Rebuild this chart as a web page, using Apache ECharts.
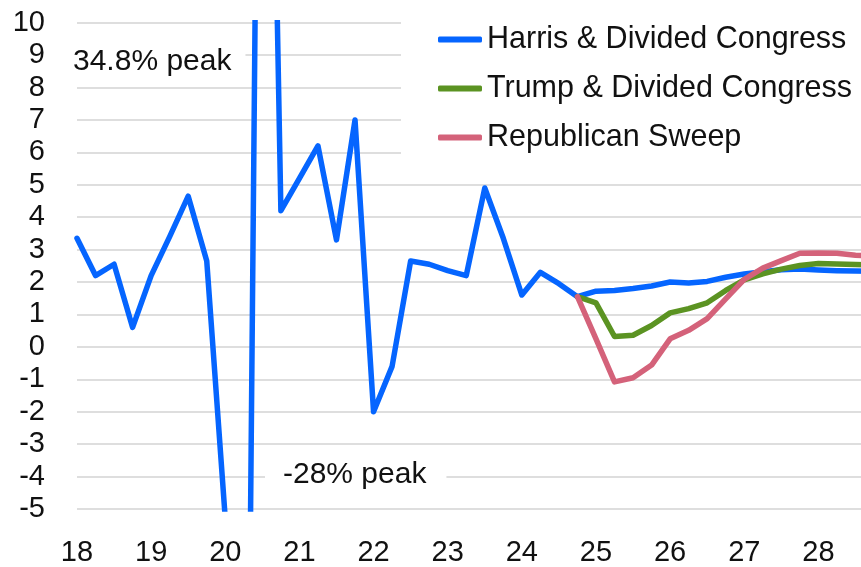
<!DOCTYPE html>
<html>
<head>
<meta charset="utf-8">
<script src="https://cdn.jsdelivr.net/npm/echarts@6/dist/echarts.min.js"></script>
<style>
  html, body { margin: 0; padding: 0; background: #fff; overflow: hidden; }
  /* plot runs a little past the right edge of the window, like the source */
  #chart { width: 874px; height: 567px; }
</style>
</head>
<body>
<div id="chart"></div>
<script>
// quarterly GDP growth, annualised %, 18Q1 .. 28Q4
const years = ['18', '19', '20', '21', '22', '23', '24', '25', '26', '27', '28']
const quarters = []
years.forEach(y => { for (let q = 1; q <= 4; q++) quarters.push(y + 'Q' + q) })

const harris = [
  3.35, 2.2, 2.55, 0.6, 2.2, 3.4, 4.65, 2.65,
  -5.3, -28, 34.8, 4.2, 5.2, 6.2, 3.3, 7.0,
  -2.0, -0.6, 2.65, 2.55, 2.35, 2.2, 4.9, 3.35,
  1.6, 2.3, 1.95, 1.55, 1.72, 1.74, 1.8, 1.88,
  2.0, 1.97, 2.02, 2.15, 2.25, 2.32, 2.38, 2.4,
  2.37, 2.35, 2.34, 2.33
]
const trump = [
  null, null, null, null, null, null, null, null,
  null, null, null, null, null, null, null, null,
  null, null, null, null, null, null, null, null,
  null, null, null, 1.55, 1.36, 0.32, 0.36, 0.66,
  1.05, 1.18, 1.36, 1.74, 2.07, 2.25, 2.4, 2.51,
  2.57, 2.56, 2.54, 2.53
]
const sweep = [
  null, null, null, null, null, null, null, null,
  null, null, null, null, null, null, null, null,
  null, null, null, null, null, null, null, null,
  null, null, null, 1.55, 0.25, -1.08, -0.95, -0.56,
  0.25, 0.51, 0.87, 1.48, 2.08, 2.43, 2.66, 2.89,
  2.9, 2.89, 2.83, 2.8
]
const seriesNames = ['Harris & Divided Congress', 'Trump & Divided Congress', 'Republican Sweep']
const yMin = -5
const yMax = 10

const font = '"Liberation Sans", Arial, sans-serif'
const textColor = '#111'

function lineSeries(name, data, color) {
  return {
    name: name,
    type: 'line',
    data: data,
    symbol: 'none',
    clip: true,
    connectNulls: false,
    lineStyle: { color: color, width: 5.5, cap: 'round', join: 'round' },
    itemStyle: { color: color }
  }
}

const chart = echarts.init(document.getElementById('chart'))
chart.setOption({
  animation: false,
  color: ['#0565FF', '#5B9322', '#D4627A'],
  grid: { left: 77, top: 22.7, bottom: 56.3, right: 0, containLabel: false },
  xAxis: {
    type: 'category',
    data: quarters,
    boundaryGap: false,
    axisLine: { show: false },
    axisTick: { show: false },
    splitLine: { show: false },
    axisLabel: {
      interval: 3,
      margin: 29,
      color: textColor,
      fontFamily: font,
      fontSize: 29,
      formatter: v => v.slice(0, 2)
    }
  },
  yAxis: {
    type: 'value',
    min: yMin,
    max: yMax,
    interval: 1,
    axisLine: { show: false },
    axisTick: { show: false },
    splitLine: { lineStyle: { color: '#dedede', width: 2 } },
    axisLabel: { margin: 32, color: textColor, fontFamily: font, fontSize: 29 }
  },
  legend: {
    data: seriesNames,
    orient: 'vertical',
    left: 401,
    top: 9,
    backgroundColor: '#fff',
    padding: [15, 30, 15, 37],
    icon: 'roundRect',
    itemWidth: 44,
    itemHeight: 6,
    itemGap: 18,
    textStyle: { color: textColor, fontFamily: font, fontSize: 30.5 }
  },
  // white boxes behind the notes hide the grid lines, but sit under the series
  graphic: [
    {
      type: 'text',
      x: 69,
      y: 62,
      z: 1,
      style: {
        text: '34.8% peak',
        font: '30px ' + font,
        fill: textColor,
        verticalAlign: 'middle',
        backgroundColor: '#fff',
        padding: [6, 14, 6, 4]
      }
    },
    {
      type: 'text',
      x: 265,
      y: 475,
      z: 1,
      style: {
        text: '-28% peak',
        font: '30px ' + font,
        fill: textColor,
        verticalAlign: 'middle',
        backgroundColor: '#fff',
        padding: [6, 20, 6, 18]
      }
    }
  ],
  series: [
    lineSeries(seriesNames[0], harris, '#0565FF'),
    lineSeries(seriesNames[1], trump, '#5B9322'),
    lineSeries(seriesNames[2], sweep, '#D4627A')
  ]
})
</script>
</body>
</html>
